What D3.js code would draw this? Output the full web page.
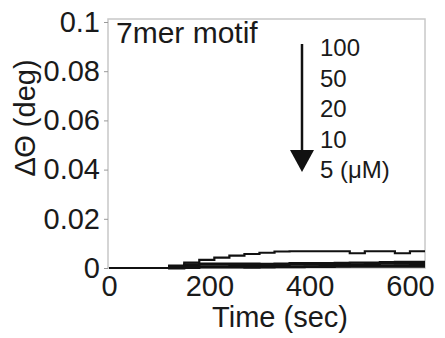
<!DOCTYPE html>
<html>
<head>
<meta charset="utf-8">
<script src="https://cdnjs.cloudflare.com/ajax/libs/d3/7.8.5/d3.min.js"></script>
<style>
  body { margin: 0; background: #fff; }
  text { font-family: "Liberation Sans", Arial, sans-serif; fill: #1a1a1a; }
</style>
</head>
<body>
<div id="plot"></div>
<script>
// time points (sec) and the signal of each concentration (deg)
var times = [0, 30, 60, 90, 120, 150, 180, 210, 240, 270, 300, 330, 360, 390, 420, 450, 480, 510, 540, 570, 600, 630];
var s100 = [0, 0, 0, 0, .001, .0022, .0033, .0042, .005, .0057, .0062, .0067, .0068, .0068, .0068, .0068, .006, .0068, .0068, .006, .0068, .0068];
var s50  = [0, 0, 0, 0, .0008, .0015, .0018, .0018, .0018, .0018, .0017, .0018, .002, .002, .002, .0021, .0022, .0022, .0024, .0025, .0025, .0025];
var s20  = [0, 0, 0, 0, .0005, .0012, .0014, .0014, .0013, .0013, .0012, .0013, .0014, .0014, .0014, .0014, .0015, .0016, .0018, .0018, .0017, .0017];
var s10  = [0, 0, 0, 0, 0, .0005, .0006, .0006, .0006, .0006, .0005, .0006, .0006, .0007, .0008, .0008, .0009, .001, .001, .0011, .0011, .0011];
var s5   = [0, 0, 0, 0, -.0002, 0, .0002, .0002, .0002, .0001, .0002, .0003, .0003, .0004, .0004, .0005, .0005, .0005, .0005, .0005, .0005, .0005];
var seriesList = [s100, s50, s20, s10, s5];

var legendLabels = ['100', '50', '20', '10', '5 (\u03bcM)'];
var xTicks = [0, 200, 400, 600];
var yTicks = [0, 0.02, 0.04, 0.06, 0.08, 0.1];

var W = 445, H = 338;
var svg = d3.select('#plot').append('svg').attr('width', W).attr('height', H);

var x = d3.scaleLinear().domain([0, 630]).range([109, 425]);
var y = d3.scaleLinear().domain([0, 0.1]).range([268, 22]);

// frame
svg.append('rect')
	.attr('x', 108).attr('y', 19)
	.attr('width', 425 - 108).attr('height', 268 - 19)
	.attr('fill', 'none').attr('stroke', '#c8c8c8').attr('stroke-width', 1.5);

svg.append('clipPath').attr('id', 'clip')
	.append('rect').attr('x', 108).attr('y', 19).attr('width', 317).attr('height', 252);

// y axis
var yAxis = svg.append('g')
	.attr('transform', 'translate(108,0)')
	.call(d3.axisLeft(y).tickValues(yTicks).tickSize(4).tickPadding(4)
		.tickFormat(function(d){ return +d.toFixed(2) + ''; }));
yAxis.select('.domain').remove();
yAxis.selectAll('line').attr('stroke', '#999');
yAxis.selectAll('text').attr('font-size', 29).attr('font-family', '"Liberation Sans", Arial, sans-serif').attr('fill', '#1a1a1a');

// x axis
var xAxis = svg.append('g')
	.attr('transform', 'translate(0,268)')
	.call(d3.axisBottom(x).tickValues(xTicks).tickSize(0).tickPadding(7));
xAxis.select('.domain').remove();
xAxis.selectAll('text').attr('font-size', 29).attr('font-family', '"Liberation Sans", Arial, sans-serif').attr('fill', '#1a1a1a');

// lines
var line = d3.line()
	.x(function(d, i){ return x(times[i]); })
	.y(function(d){ return y(d); })
	.curve(d3.curveStepAfter);

svg.append('g').attr('clip-path', 'url(#clip)')
	.selectAll('path')
	.data(seriesList)
	.enter()
	.append('path')
	.attr('d', line)
	.attr('fill', 'none')
	.attr('stroke', '#111')
	.attr('stroke-width', 2.2);

// titles
svg.append('text').attr('x', 280).attr('y', 327).attr('text-anchor', 'middle')
	.attr('font-size', 29).text('Time (sec)');
svg.append('text').attr('transform', 'translate(35,118) rotate(-90)').attr('text-anchor', 'middle')
	.attr('font-size', 29).text('\u0394\u0398 (deg)');
svg.append('text').attr('x', 116).attr('y', 43).attr('font-size', 30).text('7mer motif');

// legend with arrow
svg.append('line').attr('x1', 302).attr('x2', 302).attr('y1', 44).attr('y2', 154)
	.attr('stroke', '#111').attr('stroke-width', 2.5);
svg.append('path').attr('d', 'M290,150 L314,150 L302,172 Z').attr('fill', '#111');

svg.selectAll('.leg')
	.data(legendLabels)
	.enter()
	.append('text')
	.attr('class', 'leg')
	.attr('x', 320)
	.attr('y', function(d, i){ return 56 + i * 30.5; })
	.attr('font-size', 24)
	.text(function(d){ return d; });
</script>
</body>
</html>
